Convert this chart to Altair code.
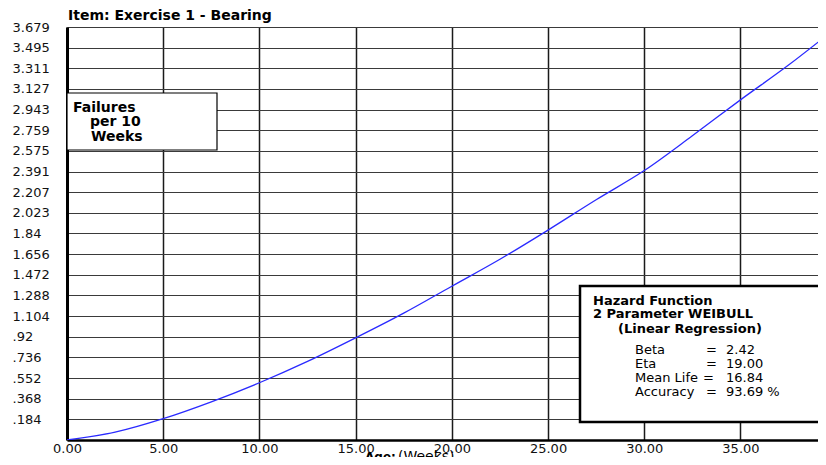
import altair as alt
import pandas as pd

# Curve values (failures per 10 weeks vs age in weeks)
ages = [0, 2.5, 5, 7.5, 10, 12.5, 15, 17.5, 20, 22.5, 25, 27.5, 30, 32.5, 35, 37.5, 39.45]
hazard = [0, 0.07, 0.19, 0.34, 0.51, 0.70, 0.91, 1.13, 1.37, 1.61, 1.87, 2.14, 2.40, 2.71, 3.03, 3.34, 3.60]

y_ticks = [0.184, 0.368, 0.552, 0.736, 0.92, 1.104, 1.288, 1.472, 1.656, 1.84,
           2.023, 2.207, 2.391, 2.575, 2.759, 2.943, 3.127, 3.311, 3.495, 3.679]
x_ticks = [0, 5, 10, 15, 20, 25, 30, 35]

title_text = "Item:  Exercise 1 - Bearing"
ylab_lines = ["Failures", "per 10", "Weeks"]
legend_lines = ["Hazard Function", "2 Parameter WEIBULL", "(Linear Regression)"]
param_names = ["Beta", "Eta", "Mean Life", "Accuracy"]
param_values = ["2.42", "19.00", "16.84", "93.69 %"]

W, H = 751, 413
X_MAX = 39.03
FONT = "DejaVu Sans"

df = pd.DataFrame({"age": ages, "h": hazard})
one = pd.DataFrame({"k": [0]})

x_enc = alt.X("age:Q",
              scale=alt.Scale(domain=[0, X_MAX], nice=False, zero=False),
              axis=alt.Axis(values=x_ticks, format=".2f", title=None, grid=True,
                            gridColor="#1a1a1a", gridWidth=1.5, domainColor="#000",
                            domainWidth=2.5, ticks=False, labelPadding=2,
                            labelFont=FONT, labelFontSize=13, labelColor="#111",
                            labelOverlap=False, labelFlush=False))
y_enc = alt.Y("h:Q",
              scale=alt.Scale(domain=[0, 3.679], nice=False),
              axis=alt.Axis(values=y_ticks, title=None, grid=True,
                            gridColor="#3a3a3a", gridWidth=1.2, domainColor="#000",
                            domainWidth=3, ticks=False, tickSize=0,
                            labelAlign="left", labelBaseline="middle", labelPadding=55,
                            labelFont=FONT, labelFontSize=13, labelColor="#111",
                            labelOverlap=False, labelFlush=False,
                            labelExpr="datum.value < 1 ? slice(format(datum.value, '.3~f'), 1) : format(datum.value, '.3~f')"))

line = alt.Chart(df).mark_line(color="#2a2aff", strokeWidth=1.3, interpolate="monotone", clip=True).encode(
    x=x_enc, y=y_enc)

box1 = alt.Chart(one).mark_rect(fill="white", stroke="black", strokeWidth=1.2).encode(
    x=alt.value(0), x2=alt.value(150), y=alt.value(66), y2=alt.value(123))
box2 = alt.Chart(one).mark_rect(fill="white", stroke="black", strokeWidth=2.5).encode(
    x=alt.value(513), x2=alt.value(770), y=alt.value(259), y2=alt.value(395))


def txt(s, x, y, bold=False, size=13.5):
    return alt.Chart(one).mark_text(text=s, align="left", baseline="middle", font=FONT,
                                    fontSize=size, fontWeight="bold" if bold else "normal",
                                    color="#000").encode(x=alt.value(x), y=alt.value(y))


texts = [
    txt(title_text, 1, -11, True, 14),
    txt(ylab_lines[0], 6, 81, True, 14),
    txt(ylab_lines[1], 23, 95, True, 14),
    txt(ylab_lines[2], 24, 110, True, 14),
    txt(legend_lines[0], 526, 274, True, 13),
    txt(legend_lines[1], 526, 287, True, 13),
    txt(legend_lines[2], 551, 302, True, 13),
    txt("Age:", 298, 430, True, 12),
    txt("(Weeks)", 331, 430, False, 14),
]
for i, (n, v) in enumerate(zip(param_names, param_values)):
    yy = 323 + 14 * i
    texts.append(txt(n, 568, yy, False, 13))
    texts.append(txt("=", 639 if n != "Mean Life" else 636, yy, False, 13))
    texts.append(txt(v, 659, yy, False, 13))

chart = alt.layer(line, box1, box2, *texts).properties(
    width=W, height=H,
    autosize=alt.AutoSizeParams(type="none"),
    padding={"left": 59, "top": 19, "right": 0, "bottom": 17},
).configure_view(stroke=None).configure(background="white")

chart.save("out.html", embed_options={"renderer": "svg", "actions": False})
